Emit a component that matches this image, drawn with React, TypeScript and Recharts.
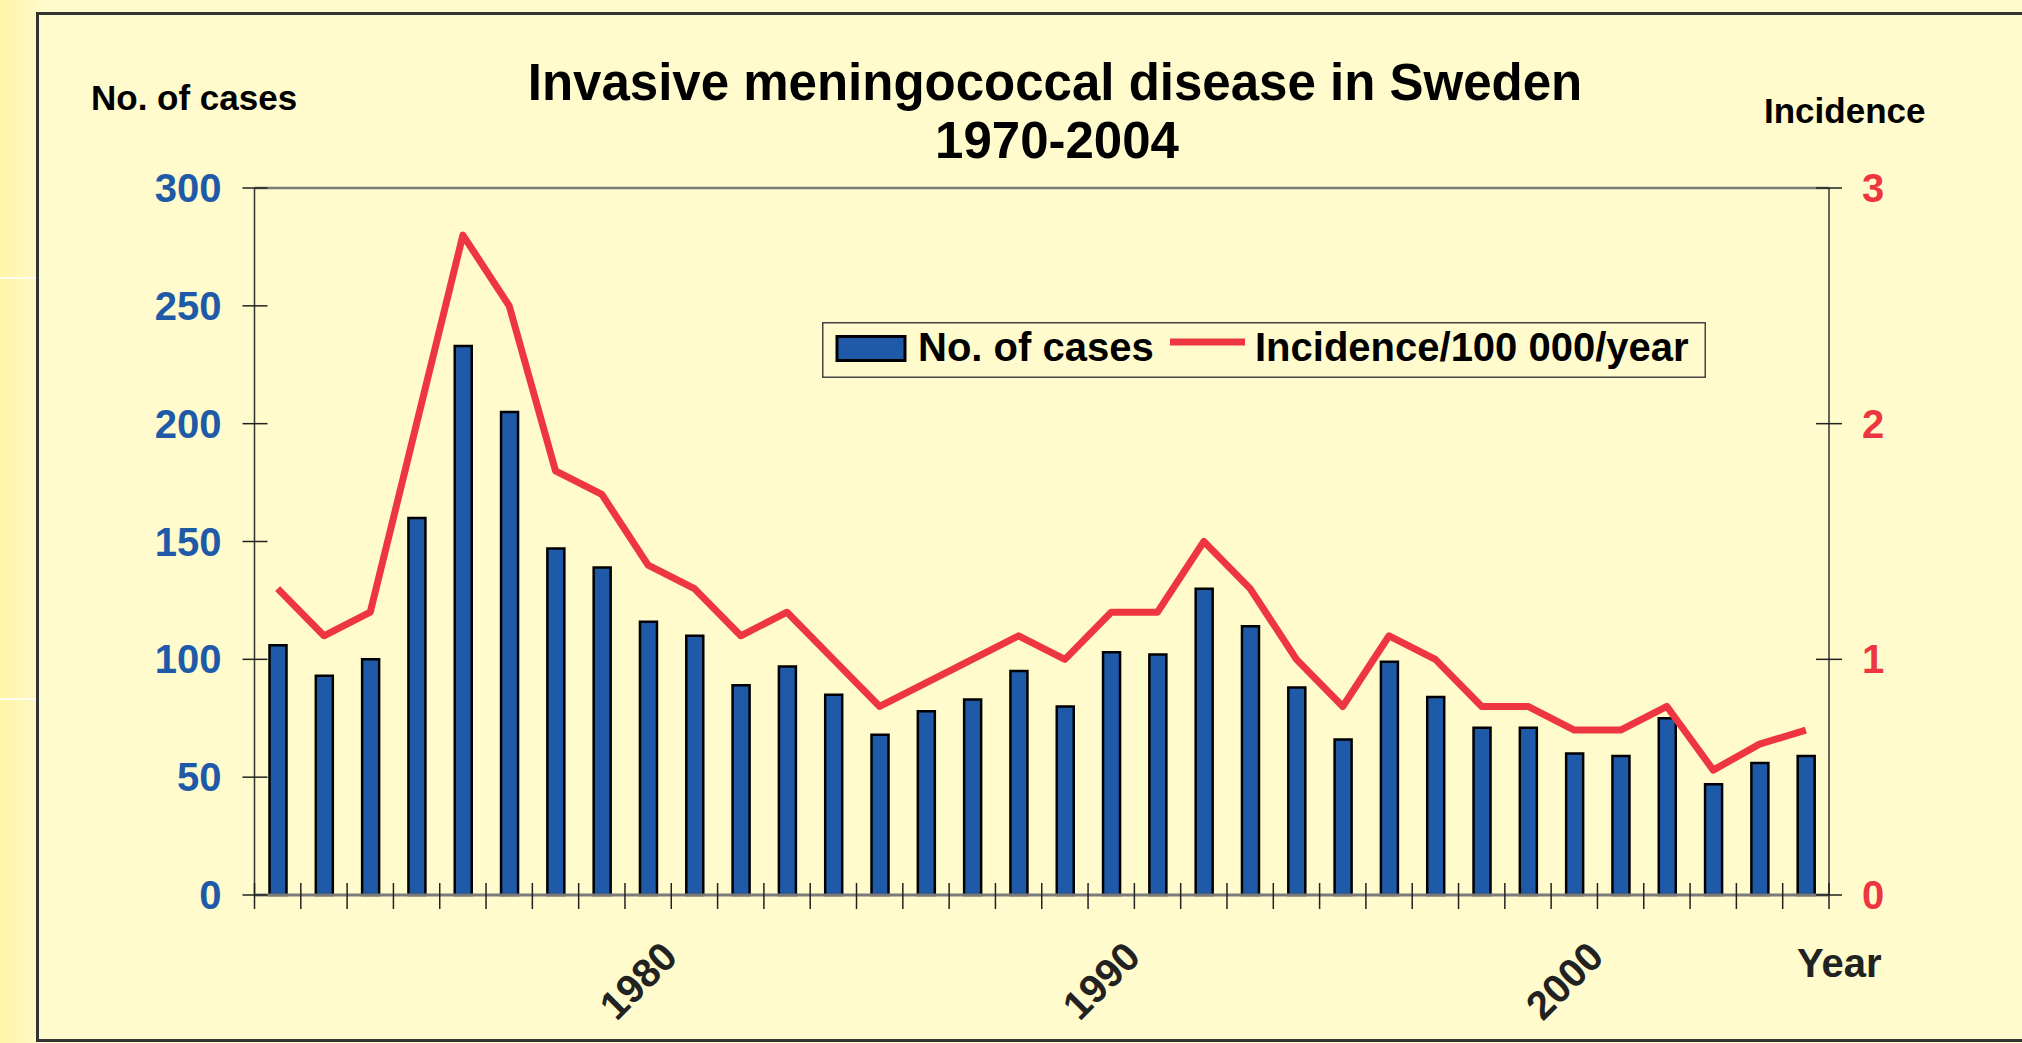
import React from 'react';
import { ComposedChart, Bar, Line, XAxis, YAxis, Legend, ReferenceLine } from 'recharts';

const YEARS = ['1971','1972','1973','1974','1975','1976','1977','1978','1979','1980','1981','1982','1983','1984','1985','1986','1987','1988','1989','1990','1991','1992','1993','1994','1995','1996','1997','1998','1999','2000','2001','2002','2003','2004'];
const CASES = [106, 93, 100, 160, 233, 205, 147, 139, 116, 110, 89, 97, 85, 68, 78, 83, 95, 80, 103, 102, 130, 114, 88, 66, 99, 84, 71, 71, 60, 59, 75, 47, 56, 59];
const INCIDENCE = [1.3, 1.1, 1.2, 2.0, 2.8, 2.5, 1.8, 1.7, 1.4, 1.3, 1.1, 1.2, 1.0, 0.8, 0.9, 1.0, 1.1, 1.0, 1.2, 1.2, 1.5, 1.3, 1.0, 0.8, 1.1, 1.0, 0.8, 0.8, 0.7, 0.7, 0.8, 0.53, 0.64, 0.7];
const LABELED_YEARS = ['1980', '1990', '2000'];
const LEFT_TICKS = [0, 50, 100, 150, 200, 250, 300];
const RIGHT_TICKS = [0, 1, 2, 3];

const TITLE_1 = 'Invasive meningococcal disease in Sweden';
const TITLE_2 = '1970-2004';
const LEFT_TITLE = 'No. of cases';
const RIGHT_TITLE = 'Incidence';
const X_TITLE = 'Year';
const CASES_NAME = 'No. of cases';
const INC_NAME = 'Incidence/100 000/year';

const data = YEARS.map((year, i) => ({ year, cases: CASES[i], incidence: INCIDENCE[i] }));

const W = 2022;
const H = 1043;
const PLOT_L = 254.5;
const PLOT_R = 1829;
const PLOT_T = 188;
const PLOT_B = 895;
const BAND = (PLOT_R - PLOT_L) / YEARS.length;
const FONT = "'Liberation Sans', Arial, Helvetica, sans-serif";
const BLUE = '#1E5AA8';
const RED = '#EE3640';

const XTick = (props: any) => {
  const { x, y, payload, index } = props;
  const half = BAND / 2;
  const isLabeled = LABELED_YEARS.includes(String(payload.value));
  const ax = x - 15;
  const ay = y + 64;
  return (
    <g>
      <line x1={x - half} x2={x - half} y1={y - 12} y2={y + 14} stroke="#222" strokeWidth={1.5} />
      {index === YEARS.length - 1 && (
        <line x1={x + half} x2={x + half} y1={y - 12} y2={y + 14} stroke="#222" strokeWidth={1.5} />
      )}
      {isLabeled && (
        <text
          x={ax}
          y={ay}
          textAnchor="end"
          transform={`rotate(-45, ${ax}, ${ay})`}
          fontFamily={FONT}
          fontWeight="bold"
          fontSize={40}
          fill="#222"
        >
          {payload.value}
        </text>
      )}
    </g>
  );
};

const LeftTick = (props: any) => {
  const { x, y, payload } = props;
  return (
    <g>
      <line x1={x - 12} x2={x + 13} y1={y} y2={y} stroke="#222" strokeWidth={1.5} />
      <text x={x - 33} y={y} dy={14} textAnchor="end" fontFamily={FONT} fontWeight="bold" fontSize={40} fill={BLUE}>
        {payload.value}
      </text>
    </g>
  );
};

const RightTick = (props: any) => {
  const { x, y, payload } = props;
  return (
    <g>
      <line x1={x - 13} x2={x + 13} y1={y} y2={y} stroke="#222" strokeWidth={1.5} />
      <text x={x + 33} y={y} dy={14} textAnchor="start" fontFamily={FONT} fontWeight="bold" fontSize={40} fill={RED}>
        {payload.value}
      </text>
    </g>
  );
};

const LegendContent = (props: any) => {
  const payload: any[] = props.payload || [];
  const barItem = payload.find((p) => p.dataKey === 'cases');
  const lineItem = payload.find((p) => p.dataKey === 'incidence');
  return (
    <svg width={884} height={56} style={{ display: 'block' }}>
      <rect x={0.75} y={0.75} width={882.5} height={54.5} fill="#FFFBCC" stroke="#444" strokeWidth={1.5} />
      {barItem && (
        <g>
          <rect x={15} y={14.5} width={68} height={24} fill={BLUE} stroke="#000" strokeWidth={3} />
          <text x={96} y={39} fontFamily={FONT} fontWeight="bold" fontSize={40} fill="#000">
            {barItem.value}
          </text>
        </g>
      )}
      {lineItem && (
        <g>
          <line x1={348} x2={423} y1={20} y2={20} stroke={RED} strokeWidth={7} />
          <text x={433} y={39} fontFamily={FONT} fontWeight="bold" fontSize={40} fill="#000">
            {lineItem.value}
          </text>
        </g>
      )}
    </svg>
  );
};

export default function App() {
  return (
    <div style={{ position: 'absolute', left: 0, top: 0, width: W, height: H, overflow: 'hidden', background: '#FFFBCC' }}>
      <div
        style={{
          position: 'absolute',
          left: 0,
          top: 0,
          width: 37,
          height: H,
          background: 'linear-gradient(to right, #FFF4A8, #FFF9C4)',
        }}
      />
      <div style={{ position: 'absolute', left: 0, top: 277, width: 37, height: 2, background: '#FFFDF2' }} />
      <div style={{ position: 'absolute', left: 0, top: 698, width: 37, height: 2, background: '#FFFDF2' }} />
      <div
        style={{
          position: 'absolute',
          left: 36,
          top: 12,
          width: W,
          height: H - 12 - 1,
          boxSizing: 'border-box',
          borderLeft: '3px solid #333',
          borderTop: '3px solid #333',
          borderBottom: '3px solid #333',
          background: '#FFFBCC',
        }}
      />
      <div style={{ position: 'absolute', left: 0, top: 0 }}>
        <ComposedChart
          width={W}
          height={H}
          data={data}
          margin={{ top: PLOT_T, bottom: H - PLOT_B - 100, left: PLOT_L - 100, right: W - PLOT_R - 100 }}
          barCategoryGap={0}
        >
          <XAxis
            dataKey="year"
            height={100}
            interval={0}
            tickSize={0}
            tickMargin={0}
            tickLine={false}
            axisLine={{ stroke: '#7A7A7A', strokeWidth: 3 }}
            tick={<XTick />}
          />
          <YAxis
            yAxisId="left"
            orientation="left"
            width={100}
            domain={[0, 300]}
            ticks={LEFT_TICKS}
            interval={0}
            tickSize={0}
            tickMargin={0}
            tickLine={false}
            axisLine={{ stroke: '#333', strokeWidth: 1.5 }}
            tick={<LeftTick />}
          />
          <YAxis
            yAxisId="right"
            orientation="right"
            width={100}
            domain={[0, 3]}
            ticks={RIGHT_TICKS}
            interval={0}
            tickSize={0}
            tickMargin={0}
            tickLine={false}
            axisLine={{ stroke: '#333', strokeWidth: 1.5 }}
            tick={<RightTick />}
          />
          <ReferenceLine yAxisId="left" y={300} stroke="#7A7A7A" strokeWidth={2.5} />
          <Legend
            layout="horizontal"
            verticalAlign="middle"
            align="center"
            content={<LegendContent />}
            wrapperStyle={{ position: 'absolute', left: 822, top: 322, width: 884, height: 56 }}
          />
          <Bar
            yAxisId="left"
            dataKey="cases"
            name={CASES_NAME}
            fill={BLUE}
            stroke="#000"
            strokeWidth={2.5}
            barSize={17}
            isAnimationActive={false}
          />
          <Line
            yAxisId="right"
            dataKey="incidence"
            name={INC_NAME}
            type="linear"
            stroke={RED}
            strokeWidth={7}
            strokeLinejoin="round"
            dot={false}
            activeDot={false}
            isAnimationActive={false}
          />
        </ComposedChart>
      </div>
      <svg width={W} height={H} style={{ position: 'absolute', left: 0, top: 0, pointerEvents: 'none' }}>
        <g fontFamily={FONT} fontWeight="bold" fill="#000">
          <text x={1055} y={100} fontSize={51} textAnchor="middle">{TITLE_1}</text>
          <text x={1057} y={158} fontSize={51} textAnchor="middle">{TITLE_2}</text>
          <text x={91} y={110} fontSize={35}>{LEFT_TITLE}</text>
          <text x={1764} y={123} fontSize={35}>{RIGHT_TITLE}</text>
          <text x={1797} y={977} fontSize={40} fill="#222">{X_TITLE}</text>
        </g>
      </svg>
    </div>
  );
}
